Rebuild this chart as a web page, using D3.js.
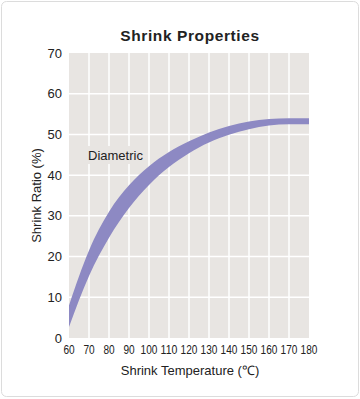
<!DOCTYPE html>
<meta charset="utf-8" />
<style>
  body { margin: 0; background: #fff; }
  text { font-family: "Liberation Sans", Arial, sans-serif; fill: #222; }
</style>
<svg width="360" height="399"></svg>
<script src="https://d3js.org/d3.v7.min.js"></script>
<script>
  // data
  var temps = [60, 70, 80, 90, 100, 110, 120, 130, 140, 150, 160, 170, 180];
  var upper = [8, 21.5, 31, 37.5, 42.2, 45.7, 48.3, 50.5, 52.1, 53.2, 53.8, 54, 54];
  var lower = [2.7, 15.2, 24.6, 31.9, 37.6, 42.0, 45.4, 48.0, 49.9, 51.3, 52.2, 52.5, 52.5];
  var xTicks = [60, 70, 80, 90, 100, 110, 120, 130, 140, 150, 160, 170, 180];
  var yTicks = [0, 10, 20, 30, 40, 50, 60, 70];

  var svg = d3.select("svg");

  // card
  svg.append("rect")
    .attr("x", 1.5).attr("y", 1.5)
    .attr("width", 357).attr("height", 395)
    .attr("rx", 5)
    .attr("fill", "#fff")
    .attr("stroke", "#dcdcdc");

  var x = d3.scaleLinear().domain([60, 180]).range([69, 309]);
  var y = d3.scaleLinear().domain([0, 70]).range([338, 53]);

  // plot background
  svg.append("rect")
    .attr("x", x(60)).attr("y", y(70))
    .attr("width", x(180) - x(60)).attr("height", y(0) - y(70))
    .attr("fill", "#e8e5e2");

  // grid
  svg.append("g").selectAll("line")
    .data(xTicks.slice(1, -1))
    .enter().append("line")
    .attr("x1", d => x(d)).attr("x2", d => x(d))
    .attr("y1", y(70)).attr("y2", y(0))
    .attr("stroke", "#fff").attr("stroke-width", 1.5);

  svg.append("g").selectAll("line")
    .data(yTicks.slice(1, -1))
    .enter().append("line")
    .attr("x1", x(60)).attr("x2", x(180))
    .attr("y1", d => y(d)).attr("y2", d => y(d))
    .attr("stroke", "#fff").attr("stroke-width", 1.5);

  // label with its own background patch
  svg.append("rect")
    .attr("x", 85).attr("y", 146)
    .attr("width", 63).attr("height", 18)
    .attr("fill", "#e8e5e2");
  svg.append("text")
    .attr("x", 88).attr("y", 160)
    .attr("font-size", 13)
    .text("Diametric");

  // shrink band
  var band = temps.map((t, i) => ({ t: t, hi: upper[i], lo: lower[i] }));
  var area = d3.area()
    .x(d => x(d.t))
    .y0(d => y(d.lo))
    .y1(d => y(d.hi))
    .curve(d3.curveMonotoneX);

  svg.append("path")
    .datum(band)
    .attr("d", area)
    .attr("fill", "#8d89c3");

  // y tick labels
  svg.append("g").selectAll("text")
    .data(yTicks)
    .enter().append("text")
    .attr("x", 62)
    .attr("y", d => y(d))
    .attr("dy", "0.35em")
    .attr("text-anchor", "end")
    .attr("font-size", 13)
    .text(d => d);

  // x tick labels, condensed like the original
  svg.append("g").selectAll("text")
    .data(xTicks)
    .enter().append("text")
    .attr("x", d => x(d))
    .attr("y", 354)
    .attr("text-anchor", "middle")
    .attr("font-size", 12.5)
    .attr("textLength", d => String(d).length * 5.6)
    .attr("lengthAdjust", "spacingAndGlyphs")
    .text(d => d);

  // titles
  svg.append("text")
    .attr("x", 190).attr("y", 41)
    .attr("text-anchor", "middle")
    .attr("font-size", 15.5)
    .attr("font-weight", "bold")
    .style("letter-spacing", "0.6px")
    .text("Shrink Properties");

  svg.append("text")
    .attr("x", 190).attr("y", 375)
    .attr("text-anchor", "middle")
    .attr("font-size", 13)
    .text("Shrink Temperature (\u2103)");

  svg.append("text")
    .attr("transform", "translate(41," + (y(35)) + ") rotate(-90)")
    .attr("text-anchor", "middle")
    .attr("font-size", 13)
    .text("Shrink Ratio (%)");
</script>
